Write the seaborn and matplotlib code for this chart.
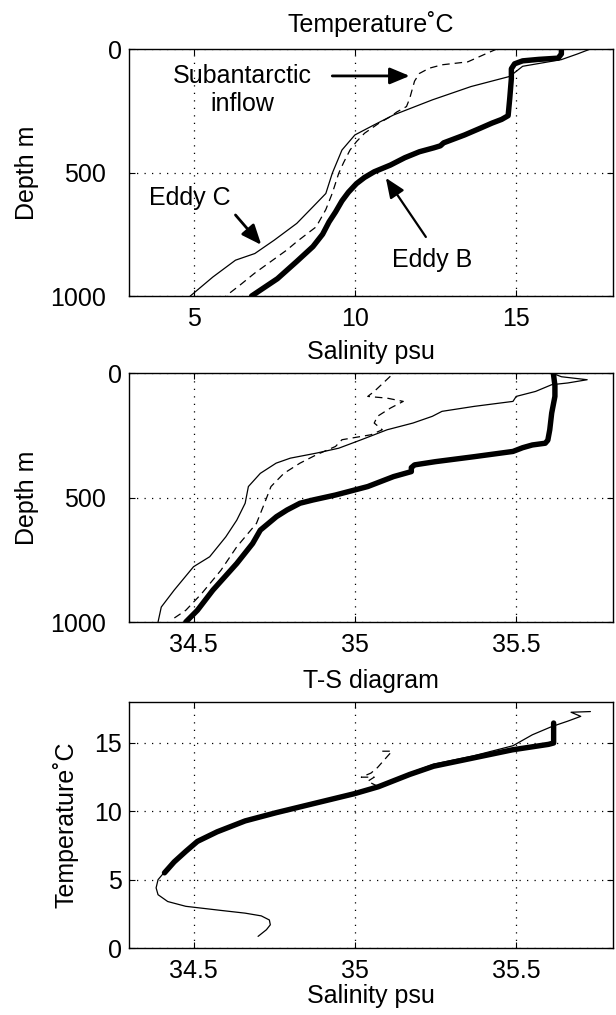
import matplotlib
matplotlib.use("Agg")
import matplotlib.pyplot as plt
import seaborn as sns
import numpy as np
from matplotlib.transforms import ScaledTranslation

# ---------------- data ----------------
# Temperature profiles (deg C) vs depth (m)
depth_T_B = [0, 20, 37, 42, 48, 60, 80, 120, 200, 270, 285, 300, 320, 348, 380, 392, 400,
             416, 440, 470, 497, 520, 545, 580, 615, 660, 700, 750, 800, 860, 930, 1000]
temp_B = [16.4, 16.4, 16.3, 15.7, 15.2, 14.95, 14.85, 14.85, 14.8, 14.75, 14.55, 14.25, 13.9,
          13.4, 12.75, 12.65, 12.45, 12.0, 11.55, 11.1, 10.6, 10.3, 10.05, 9.8, 9.6, 9.4, 9.2,
          9.0, 8.7, 8.2, 7.6, 6.8]

depth_T_C = [0, 20, 43, 70, 111, 152, 206, 267, 307, 348, 409, 503, 585, 639, 706, 774,
             828, 855, 923, 1000]
temp_C = [17.3, 16.9, 16.4, 15.2, 14.8, 13.6, 12.4, 11.2, 10.6, 10.0, 9.6, 9.3, 9.1, 8.7,
          8.2, 7.5, 6.9, 6.3, 5.6, 4.9]

depth_T_S = [0, 17, 52, 64, 78, 99, 130, 153, 200, 233, 255, 274, 300, 341, 375, 409, 460,
             503, 584, 650, 720, 780, 813, 860, 907, 960, 1000]
temp_S = [14.4, 14.1, 13.5, 12.7, 12.3, 12.0, 11.85, 11.8, 11.7, 11.6, 11.3, 11.1, 10.75,
          10.3, 10.05, 9.85, 9.65, 9.5, 9.3, 9.1, 8.8, 8.2, 7.9, 7.4, 6.9, 6.4, 6.0]

# Salinity profiles (psu) vs depth (m)
depth_S_B = [0, 50, 94, 161, 228, 270, 282, 289, 300, 315, 336, 356, 369, 380, 396, 416,
             456, 490, 510, 523, 550, 577, 631, 685, 765, 872, 953, 1000]
sal_B = [35.615, 35.62, 35.62, 35.61, 35.604, 35.598, 35.59, 35.55, 35.52, 35.49, 35.37,
         35.25, 35.185, 35.175, 35.175, 35.12, 35.04, 34.94, 34.87, 34.83, 34.79, 34.757,
         34.707, 34.683, 34.634, 34.56, 34.512, 34.476]

depth_S_C = [0, 15, 27, 40, 47, 74, 94, 114, 134, 154, 174, 201, 228, 268, 302, 322, 342,
             362, 403, 456, 523, 591, 658, 738, 778, 872, 940, 1000]
sal_C = [35.61, 35.64, 35.72, 35.66, 35.61, 35.56, 35.50, 35.49, 35.37, 35.27, 35.24, 35.18,
         35.10, 35.02, 34.95, 34.88, 34.80, 34.756, 34.707, 34.67, 34.66, 34.634, 34.60,
         34.55, 34.50, 34.44, 34.40, 34.39]

depth_S_S = [13, 74, 94, 101, 114, 141, 174, 201, 228, 248, 268, 295, 329, 362, 403, 456,
             523, 604, 698, 792, 886, 953, 993]
sal_S = [35.11, 35.06, 35.04, 35.10, 35.15, 35.11, 35.07, 35.06, 35.085, 35.05, 34.96,
         34.94, 34.88, 34.83, 34.78, 34.74, 34.72, 34.695, 34.634, 34.585, 34.525, 34.476,
         34.43]

# T-S diagram curves
ts_sal_B = [35.616, 35.616, 35.616, 35.60, 35.488, 35.366, 35.244, 35.17, 35.073, 35.0,
            34.878, 34.756, 34.66, 34.573, 34.512, 34.476, 34.44, 34.41]
ts_temp_B = [16.46, 15.6, 15.0, 14.9, 14.5, 13.9, 13.3, 12.7, 11.8, 11.3, 10.6, 9.9, 9.3,
             8.5, 7.8, 7.07, 6.3, 5.5]

ts_sal_C = [35.73, 35.67, 35.70, 35.66, 35.61, 35.55, 35.49, 35.366, 35.244, 35.17, 35.073,
            35.0, 34.878, 34.756, 34.66, 34.573, 34.512, 34.476, 34.44, 34.415, 34.39,
            34.384, 34.39, 34.42, 34.476, 34.585, 34.66, 34.71, 34.735, 34.738, 34.726,
            34.70]
ts_temp_C = [17.3, 17.25, 16.95, 16.6, 16.2, 15.6, 14.8, 14.05, 13.45, 12.8, 11.85, 11.3,
             10.6, 9.9, 9.3, 8.5, 7.8, 7.07, 6.3, 5.7, 5.0, 4.4, 3.9, 3.4, 3.05, 2.75, 2.55,
             2.35, 2.05, 1.7, 1.34, 0.85]

ts_sal_S = [35.085, 35.115, 35.07, 35.05, 35.02, 35.06, 35.04, 35.073, 35.0, 34.878, 34.756,
            34.66, 34.573, 34.512, 34.476, 34.43]
ts_temp_S = [14.4, 14.4, 13.2, 12.8, 12.5, 12.5, 12.2, 11.8, 11.3, 10.6, 9.9, 9.3, 8.5, 7.8,
             7.07, 6.0]

depth_ticks = [0, 500, 1000]
temp_ticks = [5, 10, 15]
sal_ticks = [34.5, 35, 35.5]
sal_ticklabels = ["34.5", "35", "35.5"]
ts_temp_ticks = [0, 5, 10, 15]

# ---------------- style ----------------
sns.set_style("ticks")
FS = 18
plt.rcParams["font.family"] = ["Liberation Sans", "DejaVu Sans"]
plt.rcParams["font.size"] = FS
plt.rcParams["axes.linewidth"] = 1.0
for k in ("text.color", "axes.labelcolor", "xtick.color", "ytick.color",
          "axes.edgecolor", "axes.titlecolor"):
    plt.rcParams[k] = "black"

fig = plt.figure(figsize=(6.16, 10.15), dpi=100)
L, W = 129 / 616, 484 / 616
H = 1015.0
ax1 = fig.add_axes([L, 1 - 296 / H, W, 247 / H])
ax2 = fig.add_axes([L, 1 - 622 / H, W, 249 / H])
ax3 = fig.add_axes([L, 1 - 948 / H, W, 246 / H])

THICK, THIN = 3.9, 0.9
DASH = (0, (6, 4))


def profile(ax, x, y, lw, ls="-"):
    sns.lineplot(x=x, y=y, sort=False, estimator=None, ax=ax, color="black",
                 linewidth=lw, linestyle=ls)


profile(ax1, temp_C, depth_T_C, THIN)
profile(ax1, temp_S, depth_T_S, THIN, DASH)
profile(ax1, temp_B, depth_T_B, THICK)

profile(ax2, sal_C, depth_S_C, THIN)
profile(ax2, sal_S, depth_S_S, THIN, DASH)
profile(ax2, sal_B, depth_S_B, THICK)

profile(ax3, ts_sal_C, ts_temp_C, THIN)
profile(ax3, ts_sal_S, ts_temp_S, THIN, DASH)
profile(ax3, ts_sal_B, ts_temp_B, THICK)

ax1.set_xlim(3, 18)
ax1.set_ylim(1000, 0)
ax1.set_xticks(temp_ticks)
ax1.set_yticks(depth_ticks)
ax1.set_title("Temperature˚C", pad=12, fontsize=FS)
ax1.set_xlabel("")
ax1.set_ylabel("Depth m", fontsize=FS)

ax2.set_xlim(34.3, 35.8)
ax2.set_ylim(1000, 0)
ax2.set_xticks(sal_ticks, labels=sal_ticklabels)
ax2.set_yticks(depth_ticks)
ax2.set_title("Salinity psu", pad=10, fontsize=FS)
ax2.set_xlabel("")
ax2.set_ylabel("Depth m", fontsize=FS)

ax3.set_xlim(34.3, 35.8)
ax3.set_ylim(0, 18)
ax3.set_xticks(sal_ticks, labels=sal_ticklabels)
ax3.set_yticks(ts_temp_ticks)
ax3.set_title("T-S diagram", pad=10, fontsize=FS)
ax3.set_xlabel("Salinity psu", labelpad=1, fontsize=FS)
ax3.set_ylabel("Temperature˚C", fontsize=FS)

for ax in (ax1, ax2, ax3):
    for s in ax.spines.values():
        s.set_visible(True)
        s.set_color("black")
        s.set_linewidth(1.0)
    ax.tick_params(direction="in", length=4, width=0.8, top=True, right=True,
                   labelsize=FS, colors="black")
    ax.tick_params(axis="x", pad=8)
    ax.tick_params(axis="y", pad=5)
    ax.grid(True, color="black", linestyle=(0, (1, 5)), linewidth=0.9)

ax1.yaxis.set_label_coords(-0.185, 0.5)
ax2.yaxis.set_label_coords(-0.185, 0.5)
ax3.yaxis.set_label_coords(-0.105, 0.5)

# shift the 500 / 1000 labels left as in the reference
for ax in (ax1, ax2):
    for tk in ax.yaxis.get_major_ticks()[1:]:
        tk.label1.set_transform(tk.label1.get_transform()
                                + ScaledTranslation(-16 / 100, 0, fig.dpi_scale_trans))

# annotations
arrow_kw = dict(arrowstyle="-|>,head_length=0.6,head_width=0.25", color="black",
                lw=2.0, mutation_scale=20, shrinkA=0, shrinkB=0)
ax1.text(6.5, 166, "Subantarctic\ninflow", ha="center", va="center", fontsize=FS,
         linespacing=1.25)
ax1.annotate("", xy=(11.7, 109), xytext=(9.3, 109), arrowprops=arrow_kw)
ax1.text(4.9, 604, "Eddy C", ha="center", va="center", fontsize=FS)
ax1.annotate("", xy=(7.1, 793), xytext=(6.3, 672), arrowprops=arrow_kw)
ax1.text(12.4, 854, "Eddy B", ha="center", va="center", fontsize=FS)
ax1.annotate("", xy=(10.96, 522), xytext=(12.2, 761),
             arrowprops=dict(arrow_kw, lw=1.6))

fig.savefig("out.png", dpi=100)
